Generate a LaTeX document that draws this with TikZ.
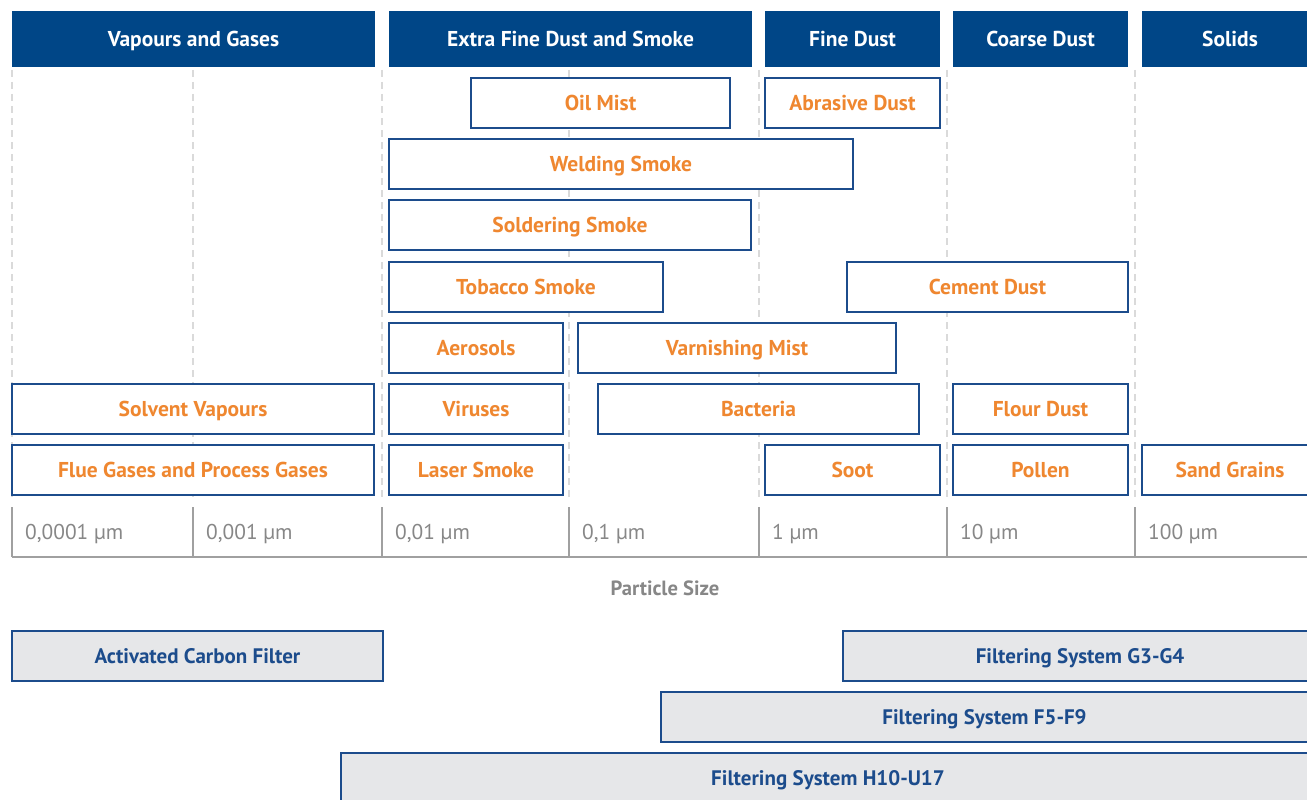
\documentclass[tikz,border=0pt]{standalone}
\usepackage{fontspec}
\setmainfont{PT Sans}
\definecolor{navy}{RGB}{0,70,135}
\definecolor{framecol}{RGB}{28,76,140}
\definecolor{labelorange}{RGB}{239,135,48}
\definecolor{scalegray}{RGB}{160,160,160}
\definecolor{scaletext}{RGB}{135,135,135}
\definecolor{guidegray}{RGB}{218,218,218}
\definecolor{filterfill}{RGB}{230,231,233}
\tikzset{
  capcentre/.style={text height=15pt, text depth=0pt},
  header/.style={fill=navy, draw=none, text=white, font=\fontsize{21.5}{24}\selectfont\bfseries,
    minimum height=56pt, inner sep=0pt, capcentre},
  source/.style={draw=framecol, line width=2.6pt, fill=white, text=labelorange,
    font=\fontsize{21.5}{24}\selectfont\bfseries, minimum height=50pt, inner sep=0pt, capcentre},
  filterbox/.style={draw=framecol, line width=2.6pt, fill=filterfill, text=framecol,
    font=\fontsize{21}{24}\selectfont\bfseries, minimum height=50pt, inner sep=0pt, capcentre},
  guide/.style={draw=guidegray, line width=1.5pt, dash pattern=on 7pt off 5pt},
  axis/.style={draw=scalegray, line width=2.5pt},
  sizelabel/.style={text=scaletext, font=\fontsize{21.4}{24}\selectfont, anchor=base west, inner sep=0pt}
}
\begin{document}
\begin{tikzpicture}[x=1pt,y=-1pt]
\useasboundingbox (0,0) rectangle (1307,800);
\clip (0,0) rectangle (1307,800);

% category headers
\node[header, minimum width=363pt] (hvap) at (193.5,39) {Vapours and Gases};
\node[header, minimum width=363pt] (hxf)  at (570.5,39) {Extra Fine Dust and Smoke};
\node[header, minimum width=175pt] (hfd)  at (852.5,39) {Fine Dust};
\node[header, minimum width=175pt] (hcd)  at (1040.5,39) {Coarse Dust};
\node[header, minimum width=176pt] (hsol) at (1230,39) {Solids};

% decade guide lines
\foreach \gx in {12,193,382,569,759,947,1135}
  \draw[guide] (\gx,70) -- (\gx,497);

% row 1
\node[source, minimum width=259pt] (oil) at (600.5,103) {Oil Mist};
\node[source, minimum width=175pt] (abr) at (852.5,103) {Abrasive Dust};
% row 2
\node[source, minimum width=464pt] (weld) at (621,164) {Welding Smoke};
% row 3
\node[source, minimum width=362pt] (sold) at (570,225) {Soldering Smoke};
% row 4
\node[source, minimum width=274pt] (tob) at (526,287) {Tobacco Smoke};
\node[source, minimum width=281pt] (cem) at (987.5,287) {Cement Dust};
% row 5
\node[source, minimum width=174pt] (aer) at (476,348) {Aerosols};
\node[source, minimum width=318pt] (varn) at (737,348) {Varnishing Mist};
% row 6
\node[source, minimum width=362pt] (solv) at (193,409) {Solvent Vapours};
\node[source, minimum width=174pt] (vir) at (476,409) {Viruses};
\node[source, minimum width=321pt] (bact) at (758.5,409) {Bacteria};
\node[source, minimum width=175pt] (flour) at (1040.5,409) {Flour Dust};
% row 7
\node[source, minimum width=362pt] (flue) at (193,470) {Flue Gases and Process Gases};
\node[source, minimum width=174pt] (laser) at (476,470) {Laser Smoke};
\node[source, minimum width=175pt] (soot) at (852.5,470) {Soot};
\node[source, minimum width=175pt] (pollen) at (1040.5,470) {Pollen};
\node[source, minimum width=176pt] (sand) at (1230,470) {Sand Grains};

% particle size scale
\coordinate (a0) at (12,557);
\coordinate (a1) at (1307,557);
\draw[axis] (a0) -- (a1);
\foreach \tx/\lab in {12/{0,0001 µm},193/{0,001 µm},382/{0,01 µm},569/{0,1 µm},759/{1 µm},947/{10 µm},1135/{100 µm}} {
  \draw[axis] (\tx,507) -- (\tx,557);
  \node[sizelabel] at (\tx+13,539.5) {\lab};
}
\node[text=scaletext, font=\fontsize{20.6}{24}\selectfont\bfseries, text height=14.4pt, text depth=0pt, inner sep=0pt] (psize) at (665,588) {Particle Size};

% filter technologies
\node[filterbox, minimum width=371pt] (acf) at (197.5,656) {Activated Carbon Filter};
\node[filterbox, minimum width=474pt] (g34) at (1080,656) {Filtering System G3-G4};
\node[filterbox, minimum width=647pt] (f59) at (984.5,717) {Filtering System F5-F9};
\node[filterbox, minimum width=974pt] (h10) at (828,778) {Filtering System H10-U17};
\end{tikzpicture}
\end{document}
